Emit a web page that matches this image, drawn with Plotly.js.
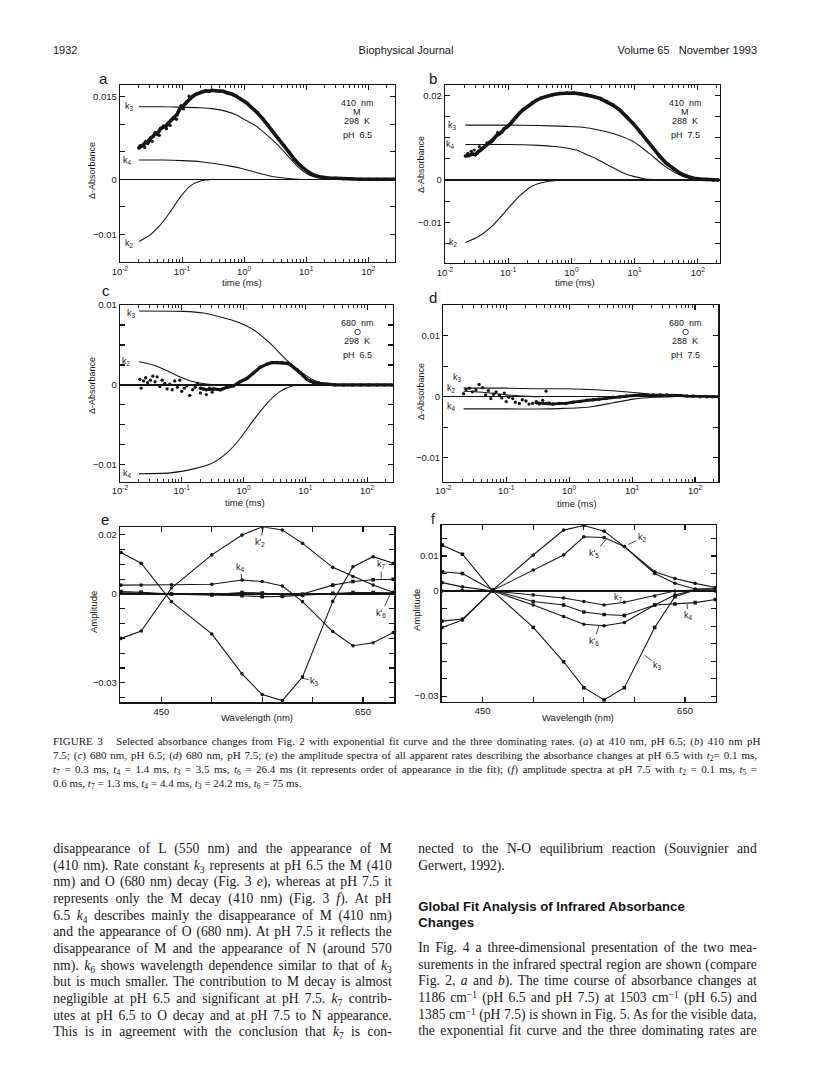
<!DOCTYPE html>
<html><head><meta charset="utf-8">
<script src="https://cdn.plot.ly/plotly-3.0.1.min.js"></script>
<style>
html,body{margin:0;padding:0;background:#fff;}
#page{position:relative;width:816px;height:1086px;overflow:hidden;background:#fff;}
#plot{position:absolute;left:0;top:0;width:816px;height:1086px;}
.ln{position:absolute;white-space:nowrap;color:#151515;}
.serif{font-family:"Liberation Serif","Times New Roman",serif;}
.sans{font-family:"Liberation Sans",Arial,sans-serif;}
.ln sub{font-size:70%;vertical-align:-0.3em;line-height:0;}
.ln sup{font-size:70%;vertical-align:0.45em;line-height:0;}
</style></head>
<body><div id="page"><div id="plot"></div></div>
<script>
// ---------------- DATA ----------------
// Panel a : 410 nm, pH 6.5
const a_k3_t=[0.02,0.05,0.1,0.2,0.32,0.5,0.75,1.0,1.5,2.2,3.5,5,6.5,8,10,13,17,22];
const a_k3_v=[0.0132,0.0132,0.0131,0.0130,0.0128,0.0124,0.0117,0.0109,0.0098,0.0083,0.0062,0.0043,0.0029,0.0019,0.0011,0.0005,0.0002,0];
const a_k4_t=[0.02,0.05,0.1,0.2,0.42,0.6,0.88,1.3,1.86,2.6,3.5,5.7,8];
const a_k4_v=[0.0035,0.0035,0.0034,0.0032,0.0027,0.0024,0.0020,0.0015,0.0010,0.0006,0.00036,0.0001,0];
const a_k2_t=[0.0203,0.0306,0.0446,0.0647,0.094,0.136,0.198,0.33];
const a_k2_v=[-0.0113,-0.0101,-0.0083,-0.0059,-0.0032,-0.0012,-0.0003,0];
const a_data_t=[0.020,0.022,0.024,0.026,0.028,0.031,0.034,0.037,0.040,0.045,0.050,0.055,0.060,0.067,0.075,0.083,0.092,0.10,0.11,0.12,0.135,0.15,0.17,0.19,0.21,0.24,0.27,0.30,0.35,0.40,0.46,0.54,0.63,0.75,0.9,1.1,1.3,1.6,2.0,2.4,3.0,3.6,4.4,5.3,6.5,8,10,12.5,15.5,19,24,30,40,55,75,100,140,190,260];
const a_data_v=[0.0057,0.0060,0.0063,0.0068,0.0066,0.0075,0.0078,0.0084,0.0082,0.0092,0.0095,0.0097,0.0102,0.0108,0.0112,0.0118,0.0128,0.0131,0.0136,0.0141,0.0147,0.0151,0.0155,0.0157,0.0159,0.0161,0.0160,0.0162,0.0161,0.0160,0.0160,0.0157,0.0155,0.0151,0.0145,0.0139,0.0131,0.0122,0.0110,0.0099,0.0085,0.0073,0.0061,0.0049,0.0036,0.0025,0.0016,0.0009,0.0005,0.0003,0.0002,0.0002,0.0001,0.0001,0,0,0,0,0];
const a_scat_t=[0.021,0.025,0.029,0.033,0.038,0.043,0.05,0.056,0.064,0.072,0.081,0.088,0.096,0.105,0.115,0.13];
const a_scat_v=[0.0061,0.0058,0.0071,0.0069,0.0085,0.0080,0.0097,0.0092,0.0098,0.0112,0.0109,0.0125,0.0134,0.0128,0.0138,0.0151];

// Panel b : 410 nm, pH 7.5
const b_k3_t=[0.021,0.1,0.3,0.8,1.5,2.8,5.1,9.5,17,31,57,100,150];
const b_k3_v=[0.0130,0.0130,0.0129,0.0127,0.0125,0.0118,0.0108,0.0091,0.0063,0.0031,0.0009,0.0002,0];
const b_k4_t=[0.021,0.1,0.3,0.5,0.82,1.2,1.7,2.5,3.5,5,7,10,14,20,30];
const b_k4_v=[0.0084,0.0084,0.0082,0.0080,0.0076,0.0071,0.0061,0.0050,0.0038,0.0026,0.0015,0.0008,0.0003,0.0001,0];
const b_k2_t=[0.021,0.034,0.055,0.09,0.148,0.24,0.4,0.72];
const b_k2_v=[-0.0148,-0.0134,-0.0110,-0.0075,-0.0039,-0.0014,-0.0004,0];
const b_data_t=[0.021,0.024,0.027,0.030,0.033,0.036,0.040,0.044,0.048,0.053,0.058,0.064,0.070,0.078,0.086,0.095,0.105,0.115,0.13,0.15,0.17,0.2,0.24,0.28,0.33,0.4,0.5,0.66,0.85,1.07,1.4,1.75,2.2,2.84,3.6,4.6,5.9,7.5,9.6,12.2,15.5,19.8,25,32,41,52,67,85,110,138,175,211];
const b_data_v=[0.0057,0.0058,0.0062,0.0060,0.0066,0.0070,0.0076,0.0081,0.0086,0.0090,0.0096,0.0104,0.0108,0.0113,0.0121,0.0125,0.0131,0.0138,0.0148,0.0158,0.0166,0.0174,0.0183,0.0189,0.0194,0.0198,0.0202,0.0205,0.0206,0.0206,0.0204,0.0202,0.0198,0.0193,0.0186,0.0177,0.0165,0.0150,0.0133,0.0114,0.0094,0.0075,0.0056,0.0039,0.0026,0.0016,0.0009,0.0004,0.0002,0.0001,0,0];
const b_scat_t=[0.023,0.026,0.029,0.032,0.035,0.039,0.046,0.055,0.068,0.082];
const b_scat_v=[0.0063,0.0068,0.0071,0.0063,0.0079,0.0074,0.0088,0.0091,0.0112,0.0116];

// Panel c : 680 nm, pH 6.5
const c_k3_t=[0.0203,0.107,0.224,0.42,0.78,1.45,2.7,5.0,8.3,13.7,22.5,37];
const c_k3_v=[0.00925,0.0092,0.0090,0.0085,0.0079,0.0069,0.0052,0.0031,0.0017,0.0006,0.0001,0];
const c_k2_t=[0.0203,0.0347,0.057,0.094,0.155,0.254,0.42];
const c_k2_v=[0.0029,0.0025,0.0018,0.0010,0.0004,0.0001,0];
const c_k4_t=[0.0203,0.065,0.155,0.29,0.54,0.88,1.45,2.4,3.9,6.4,10.6];
const c_k4_v=[-0.0111,-0.0110,-0.0105,-0.0099,-0.0085,-0.0067,-0.0044,-0.0023,-0.0008,-0.0001,0];
const c_scat_t=[0.021,0.022,0.024,0.026,0.028,0.031,0.034,0.037,0.04,0.044,0.048,0.053,0.058,0.064,0.07,0.077,0.085,0.093,0.1,0.11,0.12,0.135,0.15,0.165,0.18,0.2,0.22,0.25,0.28,0.31];
const c_scat_v=[0.0007,-0.0004,0.0005,0.0009,0.0003,0.0006,0.0011,0.0004,0.0010,-0.0002,0.0006,0.0002,-0.0005,0.0001,-0.0006,0.0005,-0.0003,0.0006,-0.0008,-0.0004,-0.0001,-0.0013,-0.0006,-0.0003,0.0002,-0.0010,-0.0005,-0.0012,-0.0004,-0.0009];
const c_data_t=[0.2,0.25,0.33,0.42,0.54,0.69,0.88,1.13,1.45,1.86,2.39,2.9,3.47,4.2,5.05,5.8,6.47,7.4,8.3,9.4,10.6,12,13.6,17,22.4,30,42,58,78,105,145,190,254];
const c_data_v=[-0.0004,-0.0006,-0.0005,-0.0006,-0.0003,-0.0001,0.0004,0.0008,0.0015,0.0022,0.0026,0.0028,0.0028,0.0028,0.0027,0.0025,0.0022,0.0019,0.0015,0.0011,0.0007,0.0005,0.0003,0.0002,0.0001,0,0,0,0,0,0,0,0];

// Panel d : 680 nm, pH 7.5
const d_k3_t=[0.021,0.05,0.1,0.3,0.9,3.0,6,10.5,16,22,35,50,94];
const d_k3_v=[0.0014,0.0014,0.0014,0.0013,0.0013,0.0011,0.0009,0.0007,0.0005,0.0003,0.0001,0.0001,0];
const d_k2_t=[0.021,0.047,0.1,0.18,0.34];
const d_k2_v=[0.0009,0.0007,0.0003,0.0001,0];
const d_k4_t=[0.021,0.1,0.5,0.9,1.5,2.4,5.0,10.5,22,45];
const d_k4_v=[-0.0020,-0.0020,-0.0020,-0.0019,-0.0018,-0.0016,-0.0010,-0.0004,-0.0001,0];
const d_scat_t=[0.021,0.023,0.026,0.029,0.033,0.037,0.042,0.047,0.052,0.057,0.063,0.069,0.078,0.085,0.093,0.1,0.11,0.127,0.14,0.162,0.18,0.206,0.23,0.262,0.3,0.336,0.38,0.43,0.48];
const d_scat_v=[0.0005,0.0012,0.0014,0.0008,0.0011,0.0020,0.0015,0.0003,0.0010,-0.0003,0.0004,0.0008,0.0002,-0.0002,0.0006,-0.0008,-0.0001,-0.0003,-0.0009,-0.0011,-0.0005,-0.0007,-0.0012,-0.0011,-0.0008,-0.0012,-0.0006,0.0009,-0.0010];
const d_data_t=[0.3,0.43,0.55,0.7,0.89,1.15,1.5,1.9,2.4,3.0,3.9,5.0,6.4,8.1,10.5,13.2,17,21.7,28,35.5,46,58,75,94,120,154,190,234];
const d_data_v=[-0.0010,-0.0011,-0.0012,-0.0011,-0.0011,-0.0009,-0.0008,-0.0006,-0.0005,-0.0004,-0.0003,-0.0001,0,0.0001,0.0002,0.0003,0.0003,0.0003,0.0003,0.0003,0.0002,0.0002,0.0001,0.0001,0,0,0,0];

// Panels e, f : amplitude spectra
const wl=[410,430,460,500,530,550,570,590,620,640,660,680];
const e_k3=[0.0140,0.0104,-0.0026,-0.0135,-0.0270,-0.0340,-0.0360,-0.0280,-0.0025,0.0092,0.0126,0.0104];
const e_k2p=[-0.0150,-0.0125,0.0020,0.0132,0.0199,0.0227,0.0216,0.0171,0.0090,0.0059,0.0030,0.0006];
const e_k4=[0.0030,0.0030,0.0031,0.0033,0.0047,0.0042,0.0027,-0.0026,-0.0127,-0.0175,-0.0165,-0.0130];
const e_k7=[0.0008,0.0006,0.0000,-0.0002,0.0005,0.0003,-0.0003,0.0000,0.0030,0.0042,0.0048,0.0050];
const e_k6p=[0.0004,0.0003,-0.0001,-0.0003,-0.0006,-0.0009,-0.0008,-0.0004,0.0002,0.0005,0.0005,0.0004];
const f_k3=[0.0131,0.0105,0.0000,-0.0104,-0.0202,-0.0276,-0.0311,-0.0276,-0.0104,-0.0016,0.0003,0.0003];
const f_k2=[-0.0104,-0.0083,0.0003,0.0103,0.0174,0.0187,0.0171,0.0127,0.0055,0.0036,0.0022,0.0010];
const f_k5p=[-0.0086,-0.0080,0.0002,0.0060,0.0103,0.0155,0.0153,0.0127,0.0050,0.0022,0.0006,0.0008];
const f_k7=[0.0000,0.0002,0.0000,-0.0011,-0.0020,-0.0030,-0.0040,-0.0032,-0.0014,0.0000,0.0003,0.0000];
const f_k4=[0.0055,0.0050,0.0002,-0.0030,-0.0040,-0.0060,-0.0067,-0.0070,-0.0040,-0.0037,-0.0033,-0.0024];
const f_k6p=[0.0024,0.0012,0.0000,-0.0040,-0.0073,-0.0095,-0.0099,-0.0090,-0.0040,-0.0011,0.0003,0.0003];

// tick labels
const decades=[0.01,0.1,1,10,100];
const decadeText=['10<sup>-2</sup>','10<sup>-1</sup>','10<sup>0</sup>','10<sup>1</sup>','10<sup>2</sup>'];
const wlTicks=[450,500,550,600,650];
const wlText=['450','','','','650'];

// ---------------- LAYOUT HELPERS ----------------
const FF='Liberation Sans, Arial, sans-serif';
const INK='#151515';
const X=p=>p/816, Y=p=>1-p/1086;
const minorVals=[];
decades.forEach(d=>{for(let k=2;k<=9;k++){if(d*k<400)minorVals.push(d*k);}});

function base(){return {showline:true,mirror:'allticks',linecolor:INK,linewidth:1.3,ticks:'inside',ticklen:5,tickwidth:1.1,tickcolor:INK,showgrid:false,zeroline:false,tickfont:{family:FF,size:9.5,color:INK},fixedrange:true};}
function logX(l,r,rng,anchor){return Object.assign(base(),{type:'log',domain:[X(l),X(r)],range:rng,anchor:anchor,tickmode:'array',tickvals:decades,ticktext:decadeText,
  minor:{ticks:'inside',ticklen:3,tickwidth:0.9,tickcolor:INK,tickmode:'array',tickvals:minorVals,showgrid:false}});}
function linX(l,r,rng,anchor){return Object.assign(base(),{domain:[X(l),X(r)],range:rng,anchor:anchor,tickmode:'array',tickvals:wlTicks,ticktext:wlText});}
function yAx(t,b,rng,anchor,vals,labels){return Object.assign(base(),{domain:[Y(b),Y(t)],range:rng,anchor:anchor,tickmode:'array',tickvals:vals,ticktext:labels,zeroline:true,zerolinecolor:INK,zerolinewidth:1.1});}
const M='\u2212';

function curve(t,v,xa,ya){return {x:t,y:v,xaxis:xa,yaxis:ya,mode:'lines',line:{color:INK,width:1.1,shape:'spline',smoothing:0.7},hoverinfo:'skip',showlegend:false};}
function band(t,v,xa,ya,w){return {x:t,y:v,xaxis:xa,yaxis:ya,mode:'lines+markers',line:{color:INK,width:w},marker:{color:INK,size:3.5},hoverinfo:'skip',showlegend:false};}
function dots(t,v,xa,ya){return {x:t,y:v,xaxis:xa,yaxis:ya,mode:'markers',marker:{color:INK,size:3.3},hoverinfo:'skip',showlegend:false};}
function spec(v,xa,ya,sym){return {x:wl,y:v,xaxis:xa,yaxis:ya,mode:'lines+markers',line:{color:INK,width:1.1},marker:{color:INK,size:3.6,symbol:sym||'circle'},hoverinfo:'skip',showlegend:false};}

const traces=[
 curve(a_k3_t,a_k3_v,'x','y'),curve(a_k4_t,a_k4_v,'x','y'),curve(a_k2_t,a_k2_v,'x','y'),
 band(a_data_t,a_data_v,'x','y',3.6),dots(a_scat_t,a_scat_v,'x','y'),
 curve(b_k3_t,b_k3_v,'x2','y2'),curve(b_k4_t,b_k4_v,'x2','y2'),curve(b_k2_t,b_k2_v,'x2','y2'),
 band(b_data_t,b_data_v,'x2','y2',3.6),dots(b_scat_t,b_scat_v,'x2','y2'),
 curve(c_k3_t,c_k3_v,'x3','y3'),curve(c_k2_t,c_k2_v,'x3','y3'),curve(c_k4_t,c_k4_v,'x3','y3'),
 band(c_data_t,c_data_v,'x3','y3',3.2),dots(c_scat_t,c_scat_v,'x3','y3'),
 curve(d_k3_t,d_k3_v,'x4','y4'),curve(d_k2_t,d_k2_v,'x4','y4'),curve(d_k4_t,d_k4_v,'x4','y4'),
 band(d_data_t,d_data_v,'x4','y4',2.8),dots(d_scat_t,d_scat_v,'x4','y4'),
 spec(e_k3,'x5','y5'),spec(e_k2p,'x5','y5'),spec(e_k4,'x5','y5'),spec(e_k7,'x5','y5','square'),spec(e_k6p,'x5','y5','square'),
 spec(f_k3,'x6','y6','square'),spec(f_k2,'x6','y6'),spec(f_k5p,'x6','y6'),spec(f_k7,'x6','y6'),spec(f_k4,'x6','y6','square'),spec(f_k6p,'x6','y6')
];

const ann=[];
function T(text,x,y,size,opt){ann.push(Object.assign({text:text,xref:'paper',yref:'paper',x:X(x),y:Y(y),xanchor:'center',yanchor:'middle',showarrow:false,font:{family:FF,size:size,color:INK}},opt||{}));}
// panel letters
T('a',103,79,15);T('b',433,78,15);T('c',106,290,15);T('d',433,297,15);T('e',105,519,15);T('f',433,519,14);
// axis titles
T('time (ms)',242,283,9.5);T('time (ms)',575,283,9.5);T('time (ms)',245,502,9.5);T('time (ms)',577,503,9.5);
T('Wavelength (nm)',257,717,9.5);T('Wavelength (nm)',578,717,9.5);
T('\u0394-Absorbance',92,171,9,{textangle:-90});T('\u0394-Absorbance',421,165,9,{textangle:-90});
T('\u0394-Absorbance',92,386,9,{textangle:-90});T('\u0394-Absorbance',421,392,9,{textangle:-90});
T('Amplitude',93,612,9.5,{textangle:-90});T('Amplitude',416,610,9.5,{textangle:-90});
// condition labels
const NB='\u00a0\u00a0';
[[357,'410'+NB+'nm','M','298'+NB+'K','pH'+NB+'6.5',0],[685,'410'+NB+'nm','M','288'+NB+'K','pH'+NB+'7.5',0],
 [357,'680'+NB+'nm','O','298'+NB+'K','pH'+NB+'6.5',220],[685,'680'+NB+'nm','O','288'+NB+'K','pH'+NB+'7.5',220]].forEach(r=>{
  T(r[1],r[0],103+r[5],9);T(r[2],r[0],112+r[5],9);T(r[3],r[0],121+r[5],9);T(r[4],r[0],135+r[5],9);});
// k labels at curve starts (time panels)
function KL(text,xa,ya,t0,v0,xs,ys){ann.push({text:text,xref:xa,yref:ya,x:Math.log10(t0),y:v0,xanchor:'right',yanchor:'middle',xshift:xs,yshift:ys,showarrow:false,font:{family:FF,size:9,color:INK}});}
KL('k<sub>3</sub>','x','y',a_k3_t[0],a_k3_v[0],-3,0);KL('k<sub>4</sub>','x','y',a_k4_t[0],a_k4_v[0],-5,0);KL('k<sub>2</sub>','x','y',a_k2_t[0],a_k2_v[0],-3,-2);
KL('k<sub>3</sub>','x2','y2',b_k3_t[0],b_k3_v[0],-6,0);KL('k<sub>4</sub>','x2','y2',b_k4_t[0],b_k4_v[0],-8,0);KL('k<sub>2</sub>','x2','y2',b_k2_t[0],b_k2_v[0],-5,0);
KL('k<sub>3</sub>','x3','y3',c_k3_t[0],c_k3_v[0],-1,-2);KL('k<sub>2</sub>','x3','y3',c_k2_t[0],c_k2_v[0],-6,0);KL('k<sub>4</sub>','x3','y3',c_k4_t[0],c_k4_v[0],-5,0);
KL('k<sub>3</sub>','x4','y4',d_k3_t[0],d_k3_v[0],0,11);KL('k<sub>2</sub>','x4','y4',d_k2_t[0],d_k2_v[0],-6,3);KL('k<sub>4</sub>','x4','y4',d_k4_t[0],d_k4_v[0],-6,2);
// k labels with pointers (spectra)
function PL(text,xa,ya,x,y,ax,ay){ann.push({text:text,xref:xa,yref:ya,x:x,y:y,ax:ax,ay:ay,showarrow:true,arrowhead:0,arrowwidth:0.8,arrowcolor:INK,standoff:0,font:{family:FF,size:9,color:INK}});}
PL("k'<sub>2</sub>",'x5','y5',551,0.0224,-3,15);PL('k<sub>4</sub>','x5','y5',530,0.0047,-2,-13);PL('k<sub>7</sub>','x5','y5',668,0.0052,0,-14);
PL("k'<sub>6</sub>",'x5','y5',678,0.0006,-10,21);PL('k<sub>3</sub>','x5','y5',589,-0.0284,13,3);
PL('k<sub>2</sub>','x6','y6',594,0.0133,14,-7);PL("k'<sub>5</sub>",'x6','y6',573,0.0151,-13,15);
ann.push({text:'k<sub>7</sub>',xref:'x6',yref:'y6',x:584,y:-0.0019,showarrow:false,font:{family:FF,size:9,color:INK}});
PL('k<sub>4</sub>','x6','y6',652,-0.0037,1,12);PL("k'<sub>6</sub>",'x6','y6',565,-0.0098,-5,16);PL('k<sub>3</sub>','x6','y6',610,-0.0183,13,10);

const layout={width:816,height:1086,margin:{l:0,r:0,t:0,b:0},paper_bgcolor:'#fff',plot_bgcolor:'rgba(0,0,0,0)',showlegend:false,
 xaxis:logX(120,395,[-2,2.43],'y'), yaxis:yAx(85,262,[-0.01504,0.01715],'x',[-0.01,-0.005,0,0.005,0.01,0.015],[M+'0.01','','0','','','0.015']),
 xaxis2:logX(445,720,[-2,2.35],'y2'), yaxis2:yAx(85,263,[-0.01967,0.02251],'x2',[-0.015,-0.01,-0.005,0,0.005,0.01,0.015,0.02],['',M+'0.01','','0','','','','0.02']),
 xaxis3:logX(120,393,[-2,2.42],'y3'), yaxis3:yAx(305,481.7,[-0.0121,0.01],'x3',[-0.01,-0.0075,-0.005,-0.0025,0,0.0025,0.005,0.0075,0.01],[M+'0.01','','','','0','','','','0.01']),
 xaxis4:logX(443.3,718.3,[-2,2.37],'y4'), yaxis4:yAx(305,481.7,[-0.01393,0.01503],'x4',[-0.01,-0.005,0,0.005,0.01],[M+'0.01','','0','','0.01']),
 xaxis5:linX(120,394.3,[409,681],'y5'), yaxis5:yAx(527.3,702.3,[-0.0366,0.02253],'x5',[-0.035,-0.03,-0.025,-0.02,-0.015,-0.01,-0.005,0,0.005,0.01,0.015,0.02],['',M+'0.03','','','','','','0','','','','0.02']),
 xaxis6:linX(441.7,716,[409.5,680.6],'y6'), yaxis6:yAx(525,701.7,[-0.0316,0.01886],'x6',[-0.03,-0.025,-0.02,-0.015,-0.01,-0.005,0,0.005,0.01,0.015],[M+'0.03','','','','','','0','','0.01','']),
 annotations:ann};
Plotly.newPlot('plot',traces,layout,{staticPlot:true,displayModeBar:false});

// ---------------- PAGE TEXT ----------------
const page=document.getElementById('page');
const header=[['1932',53,'left'],['Biophysical Journal',406,'center'],['Volume 65\u00a0\u00a0 November 1993',757,'right']];
const caption=[
 'FIGURE 3\u00a0\u00a0 Selected absorbance changes from Fig. 2 with exponential fit curve and the three dominating rates. (<i>a</i>) at 410 nm, pH 6.5; (<i>b</i>) 410 nm pH',
 '7.5; (<i>c</i>) 680 nm, pH 6.5; (<i>d</i>) 680 nm, pH 7.5; (<i>e</i>) the amplitude spectra of all apparent rates describing the absorbance changes at pH 6.5 with <i>t</i><sub>2</sub>= 0.1 ms,',
 '<i>t</i><sub>7</sub> = 0.3 ms, <i>t</i><sub>4</sub> = 1.4 ms, <i>t</i><sub>3</sub> = 3.5 ms, <i>t</i><sub>6</sub> = 26.4 ms (it represents order of appearance in the fit); (<i>f</i>) amplitude spectra at pH 7.5 with <i>t</i><sub>2</sub> = 0.1 ms, <i>t</i><sub>5</sub> =',
 '0.6 ms, <i>t</i><sub>7</sub> = 1.3 ms, <i>t</i><sub>4</sub> = 4.4 ms, <i>t</i><sub>3</sub> = 24.2 ms, <i>t</i><sub>6</sub> = 75 ms.'];
const leftCol=[
 'disappearance of L (550 nm) and the appearance of M',
 '(410 nm). Rate constant <i>k</i><sub>3</sub> represents at pH 6.5 the M (410',
 'nm) and O (680 nm) decay (Fig. 3 <i>e</i>), whereas at pH 7.5 it',
 'represents only the M decay (410 nm) (Fig. 3 <i>f</i>). At pH',
 '6.5 <i>k</i><sub>4</sub> describes mainly the disappearance of M (410 nm)',
 'and the appearance of O (680 nm). At pH 7.5 it reflects the',
 'disappearance of M and the appearance of N (around 570',
 'nm). <i>k</i><sub>6</sub> shows wavelength dependence similar to that of <i>k</i><sub>3</sub>',
 'but is much smaller. The contribution to M decay is almost',
 'negligible at pH 6.5 and significant at pH 7.5. <i>k</i><sub>7</sub> contrib-',
 'utes at pH 6.5 to O decay and at pH 7.5 to N appearance.',
 'This is in agreement with the conclusion that <i>k</i><sub>7</sub> is con-'];
const rightTop=['nected to the N-O equilibrium reaction (Souvignier and','Gerwert, 1992).'];
const heading=['Global Fit Analysis of Infrared Absorbance','Changes'];
const rightPara=[
 'In Fig. 4 a three-dimensional presentation of the two mea-',
 'surements in the infrared spectral region are shown (compare',
 'Fig. 2, <i>a</i> and <i>b</i>). The time course of absorbance changes at',
 '1186 cm<sup>\u22121</sup> (pH 6.5 and pH 7.5) at 1503 cm<sup>\u22121</sup> (pH 6.5) and',
 '1385 cm<sup>\u22121</sup> (pH 7.5) is shown in Fig. 5. As for the visible data,',
 'the exponential fit curve and the three dominating rates are'];

const lines=[];
function addLine(html,left,cy,width,cls,size,lh,justify,weight){
  const d=document.createElement('div');d.className='ln '+cls;
  d.style.left=left+'px';d.style.top=(cy-lh/2)+'px';d.style.fontSize=size+'px';d.style.lineHeight=lh+'px';
  if(weight)d.style.fontWeight=weight;
  const s=document.createElement('span');s.innerHTML=html;d.appendChild(s);page.appendChild(d);
  lines.push({d:d,s:s,w:width,j:justify});return d;}
header.forEach(h=>{const d=addLine(h[0],0,49.5,0,'sans',11,14,false);
  const r=()=>{const w=d.getBoundingClientRect().width;d.style.left=(h[2]==='left'?h[1]:h[2]==='center'?h[1]-w/2:h[1]-w)+'px';};lines[lines.length-1].pos=r;});
caption.forEach((c,i)=>addLine(c,53,741+14*i,704,'serif',11,14,i<caption.length-1));
leftCol.forEach((c,i)=>addLine(c,53.3,849.3+16.67*i,338.4,'serif',13.6,16.7,true));
rightTop.forEach((c,i)=>addLine(c,418.3,849.3+16.67*i,338.4,'serif',13.6,16.7,i===0));
heading.forEach((c,i)=>addLine(c,418.3,907.3+16*i,338.4,'sans',13.2,16,false,'bold'));
rightPara.forEach((c,i)=>addLine(c,418.3,948.3+16.67*i,338.4,'serif',13.6,16.7,true));

function fit(){
  lines.forEach(L=>{
    if(L.pos){L.pos();return;}
    L.d.style.wordSpacing='0px';L.d.style.letterSpacing='0px';
    const nat=L.s.getBoundingClientRect().width;const txt=L.s.textContent;
    const spaces=(txt.match(/ /g)||[]).length;
    if(nat>L.w){L.d.style.letterSpacing=((L.w-nat)/txt.length)+'px';}
    else if(L.j&&spaces>0){L.d.style.wordSpacing=((L.w-nat)/spaces)+'px';}
  });}
fit();
if(document.fonts&&document.fonts.ready){document.fonts.ready.then(fit);}
</script></body></html>
